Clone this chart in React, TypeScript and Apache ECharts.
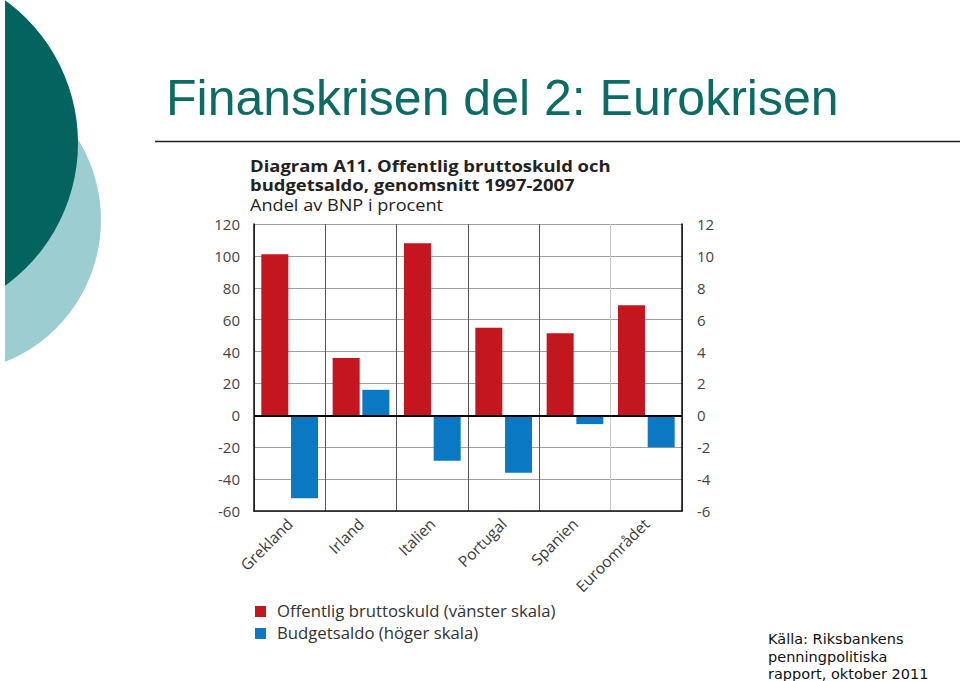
import React, { useEffect, useRef } from "react";
import * as echarts from "echarts";

const categories = ["Grekland", "Irland", "Italien", "Portugal", "Spanien", "Euroområdet"];
const bruttoskuld = [101, 36, 108, 55, 51.5, 69];
const budgetsaldo = [-5.2, 1.6, -2.85, -3.6, -0.55, -2.0];
const leftTicks = { min: -60, max: 120, interval: 20 };
const rightTicks = { min: -6, max: 12, interval: 2 };
const slideTitle = "Finanskrisen del 2: Eurokrisen";
const chartTitle1 = "Diagram A11. Offentlig bruttoskuld och";
const chartTitle2 = "budgetsaldo, genomsnitt 1997-2007";
const chartSubtitle = "Andel av BNP i procent";
const legendNames = ["Offentlig bruttoskuld (vänster skala)", "Budgetsaldo (höger skala)"];
const sourceLines = ["Källa: Riksbankens", "penningpolitiska", "rapport, oktober 2011"];

const RED = "#c3161f";
const BLUE = "#0a78c2";
const CF = "'Open Sans', 'Noto Sans', sans-serif";

export default function App() {
  const ref = useRef<HTMLDivElement>(null);
  useEffect(() => {
    if (!ref.current) return;
    const chart = echarts.init(ref.current, null, { renderer: "svg" });
    chart.setOption({
      animation: false,
      backgroundColor: "#ffffff",
      grid: { left: 254, right: 278, top: 224, bottom: 170, containLabel: false },
      xAxis: {
        type: "category",
        data: categories,
        boundaryGap: true,
        axisLine: { show: true, onZero: false, lineStyle: { color: "#111", width: 1.5 } },
        axisTick: { show: false },
        axisLabel: { rotate: 45, margin: 10, fontSize: 15.5, color: "#3a3a3a", fontFamily: CF, interval: 0 },
        splitLine: {
          show: true,
          interval: 0,
          lineStyle: { color: ["#555", "#555", "#555", "#555", "#555", "#c8c8c8"], width: 1 },
        },
      },
      yAxis: [
        {
          type: "value",
          min: leftTicks.min,
          max: leftTicks.max,
          interval: leftTicks.interval,
          position: "left",
          axisLine: { show: true, lineStyle: { color: "#111", width: 1.5 } },
          axisTick: { show: false },
          axisLabel: { fontSize: 15, color: "#444", fontFamily: CF, margin: 14 },
          splitLine: { show: true, lineStyle: { color: "#a0a0a0", width: 1 } },
        },
        {
          type: "value",
          min: rightTicks.min,
          max: rightTicks.max,
          interval: rightTicks.interval,
          position: "right",
          axisLine: { show: true, lineStyle: { color: "#111", width: 1.5 } },
          axisTick: { show: false },
          axisLabel: { fontSize: 15, color: "#444", fontFamily: CF, margin: 15 },
          splitLine: { show: false },
        },
      ],
      series: [
        {
          name: legendNames[0],
          type: "bar",
          yAxisIndex: 0,
          data: bruttoskuld,
          itemStyle: { color: RED },
          barWidth: 27,
          barGap: "10%",
          markLine: {
            silent: true,
            symbol: ["none", "none"],
            label: { show: false },
            lineStyle: { color: "#000", width: 1.8, type: "solid" },
            data: [{ yAxis: 0 }],
          },
        },
        {
          name: legendNames[1],
          type: "bar",
          yAxisIndex: 1,
          data: budgetsaldo,
          itemStyle: { color: BLUE },
          barWidth: 27,
          barGap: "10%",
        },
      ],
      legend: { show: false },
      graphic: [
        { type: "circle", shape: { cx: -52, cy: 220, r: 153 }, style: { fill: "#9ccdd0" } },
        { type: "circle", shape: { cx: -98, cy: 143, r: 176 }, style: { fill: "#03635e" } },
        { type: "rect", shape: { x: 0, y: 0, width: 5, height: 681 }, style: { fill: "#ffffff" } },
        {
          type: "text",
          x: 166,
          y: 123,
          style: {
            text: slideTitle,
            fill: "#0d6b66",
            font: "50px 'Liberation Sans', Arial, sans-serif",
            textVerticalAlign: "bottom",
          },
        },
        { type: "line", shape: { x1: 155, y1: 141.5, x2: 960, y2: 141.5 }, style: { stroke: "#222", lineWidth: 1.5 } },
        {
          type: "text",
          x: 250,
          y: 166,
          scaleX: 1.19,
          style: { text: chartTitle1, fill: "#222", font: `bold 15.5px ${CF}`, textVerticalAlign: "middle" },
        },
        {
          type: "text",
          x: 250,
          y: 185,
          scaleX: 1.19,
          style: { text: chartTitle2, fill: "#222", font: `bold 15.5px ${CF}`, textVerticalAlign: "middle" },
        },
        {
          type: "text",
          x: 250,
          y: 205,
          scaleX: 1.17,
          style: { text: chartSubtitle, fill: "#222", font: `15.5px ${CF}`, textVerticalAlign: "middle" },
        },
        { type: "rect", shape: { x: 255, y: 606, width: 11, height: 11 }, style: { fill: RED } },
        {
          type: "text",
          x: 277,
          y: 611.5,
          scaleX: 1.045,
          style: { text: legendNames[0], fill: "#333", font: `16px ${CF}`, textVerticalAlign: "middle" },
        },
        { type: "rect", shape: { x: 255, y: 628, width: 11, height: 11 }, style: { fill: BLUE } },
        {
          type: "text",
          x: 277,
          y: 633.5,
          scaleX: 1.045,
          style: { text: legendNames[1], fill: "#333", font: `16px ${CF}`, textVerticalAlign: "middle" },
        },
        ...sourceLines.map((t, i) => ({
          type: "text",
          x: 768,
          y: 639 + i * 17.5,
          style: {
            text: t,
            fill: "#111",
            font: "14.5px 'DejaVu Sans', sans-serif",
            textVerticalAlign: "middle",
          },
        })),
      ],
    });
    return () => chart.dispose();
  }, []);
  return (
    <div
      ref={ref}
      style={{ position: "fixed", left: 0, top: 0, width: 960, height: 681, background: "#fff" }}
    />
  );
}
